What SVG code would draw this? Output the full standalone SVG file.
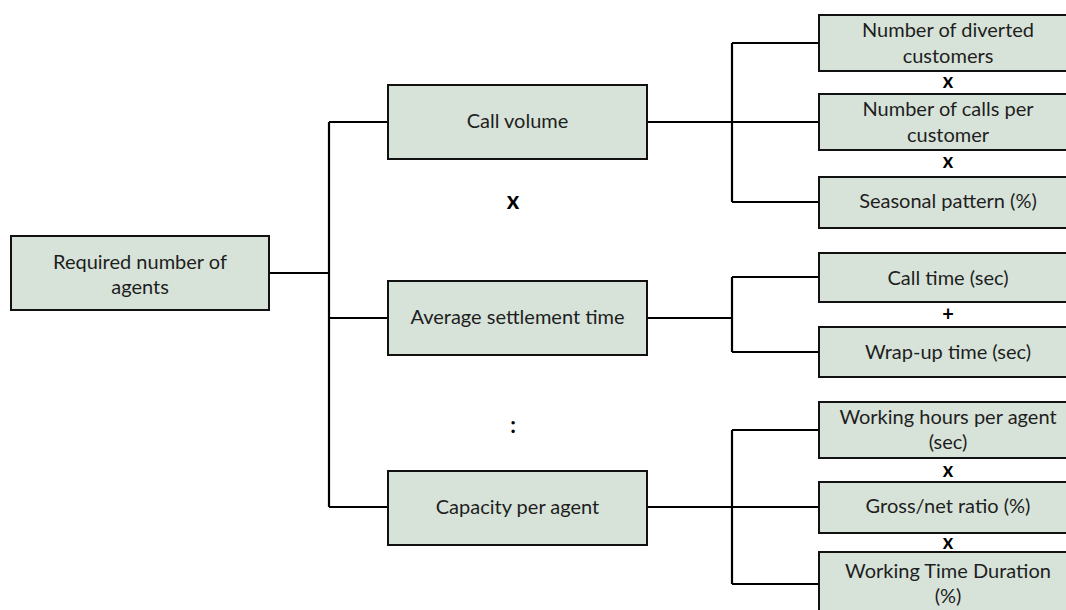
<svg xmlns="http://www.w3.org/2000/svg" width="1066" height="610" viewBox="0 0 1066 610">
<style>
.box{fill:#d7e3d9;stroke:#111;stroke-width:2}
.t{font-family:Lato,"Open Sans","Liberation Sans",sans-serif;font-size:20px;fill:#1e1e1e;text-anchor:middle}
.op{font-family:Lato,"Open Sans","Liberation Sans",sans-serif;font-weight:bold;fill:#000;text-anchor:middle}
.c{fill:none;stroke:#000;stroke-width:2.2}
</style>
<rect width="1066" height="610" fill="#fff"/>
<g id="connectors">
<path class="c" d="M269,273H329M329,122V507M329,122H388M329,318H388M329,507H388"/>
<path class="c" d="M647,122H732M732,43V202M732,43H819M732,122H819M732,202H819"/>
<path class="c" d="M647,318H732M732,277V352M732,277H819M732,352H819"/>
<path class="c" d="M647,507H732M732,430V584M732,430H819M732,507H819M732,584H819"/>
</g>
<g id="root">
<rect class="box" x="11" y="236" width="258" height="74"/>
<text class="t" x="140" y="269">Required number of</text>
<text class="t" x="140" y="294">agents</text>
</g>
<g id="call-volume">
<rect class="box" x="388" y="85" width="259" height="74"/>
<text class="t" x="517.5" y="128">Call volume</text>
</g>
<g id="avg-settlement">
<rect class="box" x="388" y="281" width="259" height="74"/>
<text class="t" x="517.5" y="324">Average settlement time</text>
</g>
<g id="capacity">
<rect class="box" x="388" y="471" width="259" height="74"/>
<text class="t" x="517.5" y="514">Capacity per agent</text>
</g>
<g id="diverted">
<rect class="box" x="819" y="15" width="260" height="56"/>
<text class="t" x="948" y="37">Number of diverted</text>
<text class="t" x="948" y="63">customers</text>
</g>
<g id="calls-per-customer">
<rect class="box" x="819" y="94" width="260" height="56"/>
<text class="t" x="948" y="116">Number of calls per</text>
<text class="t" x="948" y="142">customer</text>
</g>
<g id="seasonal">
<rect class="box" x="819" y="177" width="260" height="51"/>
<text class="t" x="948" y="208">Seasonal pattern (%)</text>
</g>
<g id="call-time">
<rect class="box" x="819" y="253" width="260" height="49"/>
<text class="t" x="948" y="285">Call time (sec)</text>
</g>
<g id="wrap-up">
<rect class="box" x="819" y="327" width="260" height="50"/>
<text class="t" x="948" y="359">Wrap-up time (sec)</text>
</g>
<g id="working-hours">
<rect class="box" x="819" y="402" width="260" height="56"/>
<text class="t" x="948" y="424">Working hours per agent</text>
<text class="t" x="948" y="449">(sec)</text>
</g>
<g id="gross-net">
<rect class="box" x="819" y="482" width="260" height="51"/>
<text class="t" x="948" y="513">Gross/net ratio (%)</text>
</g>
<g id="working-time-duration">
<rect class="box" x="819" y="552" width="260" height="66"/>
<text class="t" x="948" y="578">Working Time Duration</text>
<text class="t" x="948" y="603">(%)</text>
</g>
<g id="operators">
<text class="op" x="513" y="209" font-size="24">x</text>
<text class="op" x="513" y="433" font-size="22">:</text>
<text class="op" x="948" y="88" font-size="20">x</text>
<text class="op" x="948" y="168" font-size="20">x</text>
<text class="op" x="948" y="321" font-size="20">+</text>
<text class="op" x="948" y="477" font-size="20">x</text>
<text class="op" x="948" y="549" font-size="20">x</text>
</g>
</svg>
